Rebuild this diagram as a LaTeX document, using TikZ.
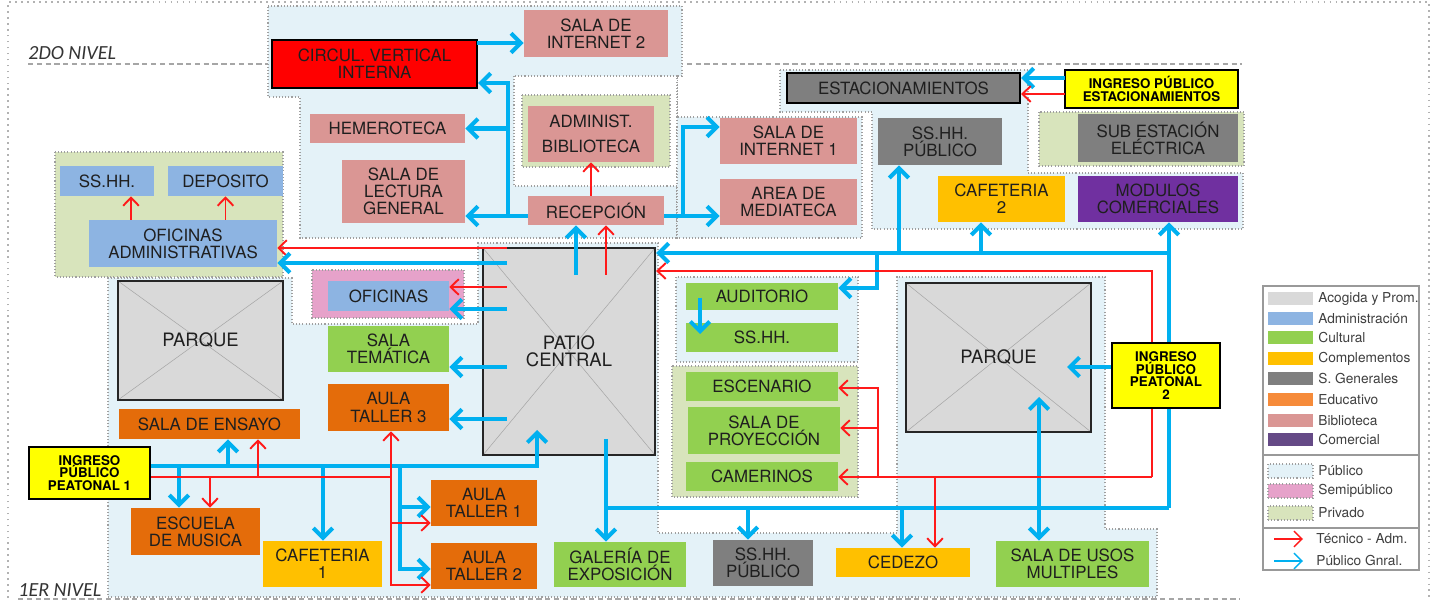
\documentclass[tikz,border=0pt]{standalone}
\usepackage{fontspec}
\setmainfont{TeX Gyre Heros}
\newfontfamily\levelfont{Carlito}
\usetikzlibrary{arrows.meta,backgrounds}
\definecolor{cBib}{HTML}{DA9694}
\definecolor{cAdm}{HTML}{8DB4E2}
\definecolor{cCul}{HTML}{92D050}
\definecolor{cCom}{HTML}{FFC000}
\definecolor{cSG}{HTML}{7F7F7F}
\definecolor{cEdu}{HTML}{E46C0A}
\definecolor{cEduL}{HTML}{F68B3A}
\definecolor{cMer}{HTML}{7030A0}
\definecolor{cMerL}{HTML}{654A86}
\definecolor{cAco}{HTML}{D9D9D9}
\definecolor{cPub}{HTML}{E4F2F8}
\definecolor{cSemi}{HTML}{E6A2CA}
\definecolor{cPriv}{HTML}{D8E4BC}
\definecolor{cBlue}{HTML}{00B0F0}
\definecolor{cRed}{HTML}{FF1A1A}
\definecolor{cIng}{HTML}{FFFF00}
\definecolor{cCirc}{HTML}{FF0000}
\pgfdeclarelayer{front}
\pgfsetlayers{background,main,front}
\tikzset{
  wh/.style 2 args={minimum width=#1*0.02cm,minimum height=#2*0.02cm},
  room/.style={inner sep=0pt,align=center,text=black!88,
               font=\fontsize{9.6}{9.7}\selectfont},
  bib/.style={room,fill=cBib},
  adm/.style={room,fill=cAdm},
  cul/.style={room,fill=cCul},
  com/.style={room,fill=cCom},
  sgen/.style={room,fill=cSG},
  edu/.style={room,fill=cEdu},
  mer/.style={room,fill=cMer},
  ingreso/.style={inner sep=0pt,align=center,fill=cIng,draw=black,line width=1.4pt,
               font=\fontsize{7.6}{7.3}\selectfont\bfseries},
  parque/.style={room,fill=cAco,draw=black!85,line width=1.3pt,
               font=\fontsize{10.5}{9.8}\selectfont,
               path picture={\draw[gray!70,line width=.3pt]
                 (path picture bounding box.north west) -- (path picture bounding box.south east)
                 (path picture bounding box.south west) -- (path picture bounding box.north east);}},
  zona/.style={draw=gray!75,line width=.6pt,dash pattern=on .6pt off 1.2pt},
  pub/.style={zona,fill=cPub},
  priv/.style={zona,fill=cPriv},
  semi/.style={zona,fill=cSemi},
  publine/.style={cBlue,line width=2.3pt},
  pubarrow/.style={publine,-{Straight Barb[length=5.5pt,width=11pt]}},
  pubboth/.style={publine,{Straight Barb[length=5.5pt,width=11pt]}-{Straight Barb[length=5.5pt,width=11pt]}},
  tecline/.style={cRed,line width=1.1pt},
  tecarrow/.style={tecline,-{Straight Barb[length=4.6pt,width=9pt]}},
  leyenda/.style={anchor=west,inner sep=0pt,text=black!75,font=\fontsize{7.8}{8}\selectfont},
}

\begin{document}
\begin{tikzpicture}[x=0.02cm,y=-0.02cm]
  \useasboundingbox (0,0) rectangle (1438,601);

  % zones and level marks
  \begin{pgfonlayer}{background}
    \draw[gray!60,line width=.8pt,dash pattern=on 1pt off 2.4pt] (8,598) -- (8,2) -- (1429,2) -- (1429,598);
    \draw[gray!70,line width=.6pt,dash pattern=on 3pt off 2pt] (28,64) -- (1242,64);
    \draw[gray!70,line width=.6pt,dash pattern=on 3pt off 2pt] (18,599) -- (1240,599);
    \draw[pub] (268,6) -- (682,6) -- (682,76) -- (677,76) -- (677,238) -- (300,238) -- (300,97) -- (268,97) -- cycle;
    \draw[zona,fill=white] (514,76) rectangle (677,186);
    \draw[priv] (522,95) rectangle (670,167);
    \draw[pub] (677,117) rectangle (862,238);
    \draw[pub] (780,70) -- (1028,70) -- (1028,173) -- (1243,173) -- (1243,229) -- (872,229) -- (872,112) -- (780,112) -- cycle;
    \draw[priv] (1039,112) rectangle (1244,166);
    \draw[priv] (55,152) rectangle (283,277);
    \draw[pub] (108,278) -- (292,278) -- (292,324) -- (478,324) -- (478,243) -- (658,243) -- (658,533)
      -- (897,533) -- (897,277) -- (1105,277) -- (1105,529) -- (1157,529) -- (1157,597) -- (108,597) -- cycle;
    \draw[semi] (312,270) rectangle (464,318);
    \draw[pub] (676,277) rectangle (858,362);
    \draw[priv] (672,366) rectangle (858,497);
  \end{pgfonlayer}

  \node[anchor=west,inner sep=0pt,text=black!80,font=\levelfont\itshape\fontsize{11.4}{12}\selectfont] (nivel2) at (28,53) {2DO NIVEL};
  \node[anchor=west,inner sep=0pt,text=black!80,font=\levelfont\itshape\fontsize{11.4}{12}\selectfont] (nivel1) at (18,590) {1ER NIVEL};

  % second level and library
  \node[room,fill=cCirc,draw=black,line width=1.4pt,wh={205}{48}] (circ) at (374.5,64) {CIRCUL. VERTICAL\\INTERNA};
  \node[bib,wh={144}{47}] (int2) at (596,33.5) {SALA DE\\INTERNET 2};
  \node[bib,wh={155}{29}] (hemero) at (387.5,128.5) {HEMEROTECA};
  \node[bib,wh={123}{63}] (lectura) at (403.5,191.5) {SALA DE\\LECTURA\\GENERAL};
  \node[bib,wh={126}{56}] (admbib) at (591,134) {ADMINIST.\\[4.5pt]BIBLIOTECA};
  \node[bib,wh={136}{29}] (recep) at (596,210.5) {RECEPCIÓN};
  \node[bib,wh={137}{46}] (int1) at (788.5,141) {SALA DE\\INTERNET 1};
  \node[bib,wh={137}{46}] (media) at (788.5,202) {AREA DE\\MEDIATECA};

  % parking and services
  \node[sgen,draw=black,line width=1.3pt,wh={233}{30}] (estac) at (903.5,88) {ESTACIONAMIENTOS};
  \node[ingreso,wh={173}{38}] (ingE) at (1151.5,89) {INGRESO PÚBLICO\\ESTACIONAMIENTOS};
  \node[sgen,wh={124}{47}] (sshhT) at (940,141.5) {SS.HH.\\PÚBLICO};
  \node[sgen,wh={160}{48}] (subest) at (1158,138) {SUB ESTACIÓN\\ELÉCTRICA};
  \node[com,wh={127}{46}] (caf2) at (1001.5,199) {CAFETERIA\\2};
  \node[mer,wh={160}{46}] (modul) at (1158,199) {MODULOS\\COMERCIALES};

  % administration
  \node[adm,wh={94}{30}] (sshhA) at (107,181) {SS.HH.};
  \node[adm,wh={115}{30}] (depo) at (225.5,181) {DEPOSITO};
  \node[adm,wh={188}{47}] (ofiA) at (183,243.5) {OFICINAS\\ADMINISTRATIVAS};

  % first level
  \node[parque,wh={165}{119}] (parque1) at (200.5,340.5) {PARQUE};
  \node[parque,wh={172}{207}] (patio) at (569,351.5) {PATIO\\CENTRAL};
  \node[parque,wh={185}{149}] (parque2) at (998.5,357.5) {PARQUE};
  \node[adm,wh={121}{30}] (ofi) at (388.5,296) {OFICINAS};
  \node[cul,wh={121}{46}] (tema) at (388.5,349) {SALA\\TEMÁTICA};
  \node[edu,wh={121}{47}] (aula3) at (388.5,407.5) {AULA\\TALLER 3};
  \node[edu,wh={181}{30}] (ensayo) at (209.5,424) {SALA DE ENSAYO};
  \node[ingreso,wh={121}{52}] (ingP1) at (89.5,473) {INGRESO\\PÚBLICO\\PEATONAL 1};
  \node[edu,wh={129}{47}] (escuela) at (195.5,531.5) {ESCUELA\\DE MUSICA};
  \node[com,wh={119}{46}] (caf1) at (322.5,564) {CAFETERIA\\1};
  \node[edu,wh={106}{46}] (aula1) at (484,503) {AULA\\TALLER 1};
  \node[edu,wh={106}{46}] (aula2) at (484,566) {AULA\\TALLER 2};
  \node[cul,wh={132}{45}] (galeria) at (620,564.5) {GALERÍA DE\\EXPOSICIÓN};
  \node[sgen,wh={100}{46}] (sshhB) at (763,563) {SS.HH.\\PÚBLICO};
  \node[com,wh={134}{29}] (cedezo) at (903,562.5) {CEDEZO};
  \node[cul,wh={153}{46}] (usos) at (1072.5,564) {SALA DE USOS\\MULTIPLES};
  \node[cul,wh={152}{27}] (audit) at (762,296.5) {AUDITORIO};
  \node[cul,wh={152}{29}] (sshhC) at (762,337.5) {SS.HH.};
  \node[cul,wh={152}{29}] (escen) at (762,386.5) {ESCENARIO};
  \node[cul,wh={152}{47}] (proy) at (764,430.5) {SALA DE\\PROYECCIÓN};
  \node[cul,wh={152}{29}] (camer) at (762,476.5) {CAMERINOS};
  \begin{pgfonlayer}{front}
    \node[ingreso,wh={108}{65}] (ingP2) at (1166,375.5) {INGRESO\\PÚBLICO\\PEATONAL\\2};
  \end{pgfonlayer}

  % library circulation
  \coordinate (libB) at (508,216);
  \coordinate (libT) at (508,83);
  \coordinate (c2) at (477,43);
  \coordinate (libR) at (683,216);
  \coordinate (libRT) at (683,127);
  \draw[pubarrow] (recep.west |- libB) -- (libB -| lectura.east);
  \draw[pubarrow] (libB) -- (libT) -- (libT -| circ.east);
  \draw[pubarrow] (libB |- hemero.east) -- (hemero.east);
  \draw[pubarrow] (c2) -- (c2 -| int2.west);
  \draw[pubarrow] (recep.east |- libR) -- (libR -| media.west);
  \draw[pubarrow] (libR) -- (libRT) -- (libRT -| int1.west);
  \draw[tecarrow] (recep.north -| admbib.south) -- (admbib.south);

  % patio to the north and west
  \coordinate (pT1) at (576,275);
  \coordinate (pT2) at (606,275);
  \draw[pubarrow] (pT1) -- (pT1 |- recep.south);
  \draw[tecarrow] (pT2) -- (pT2 |- recep.south);
  \coordinate (pw1) at (507,248);
  \coordinate (pw2) at (507,263);
  \coordinate (pw3) at (507,287);
  \coordinate (pw4) at (507,309);
  \coordinate (pw5) at (507,367);
  \coordinate (pw6) at (507,419);
  \draw[tecarrow] (pw1) -- (pw1 -| ofiA.east);
  \draw[pubarrow] (pw2) -- (pw2 -| ofiA.east);
  \draw[tecarrow] (pw3) -- (pw3 -| ofi.east);
  \draw[pubarrow] (pw4) -- (pw4 -| ofi.east);
  \draw[pubarrow] (pw5) -- (pw5 -| tema.east);
  \draw[pubarrow] (pw6) -- (pw6 -| aula3.east);
  \coordinate (a1) at (131,220);
  \draw[tecarrow] (a1) -- (a1 |- sshhA.south);
  \draw[tecarrow] (ofiA.north -| depo.south) -- (depo.south);

  % parking entrance
  \coordinate (e1) at (1065,78);
  \coordinate (e2) at (1065,94);
  \draw[pubarrow] (e1) -- (e1 -| estac.east);
  \draw[tecarrow] (e2) -- (e2 -| estac.east);

  % entrance 2, public network
  \coordinate (eB1) at (1169,253);
  \coordinate (eB2) at (1169,508);
  \coordinate (b1) at (899,253);
  \coordinate (b2) at (981,253);
  \coordinate (b3) at (877,253);
  \coordinate (b3d) at (877,288);
  \coordinate (gB) at (606,508);
  \coordinate (pB) at (606,439);
  \coordinate (b4) at (748,508);
  \coordinate (b5) at (902,508);
  \coordinate (p2t) at (1067,367);
  \coordinate (p2in) at (1039,397);
  \draw[pubarrow] (eB2) -- (eB2 |- modul.south);
  \draw[pubarrow] (eB1) -- (eB1 -| patio.east);
  \draw[pubarrow] (b1) -- (b1 |- sshhT.south);
  \draw[pubarrow] (b2) -- (b2 |- caf2.south);
  \draw[pubarrow] (b3) -- (b3d) -- (b3d -| audit.east);
  \draw[publine] (eB2) -- (gB);
  \draw[pubarrow] (pB) -- (pB |- galeria.north);
  \draw[pubarrow] (b4) -- (b4 |- sshhB.north);
  \draw[pubarrow] (b5) -- (b5 |- cedezo.north);
  \draw[pubarrow] (ingP2.west |- p2t) -- (p2t);
  \draw[pubboth] (p2in) -- (p2in |- usos.north);
  \coordinate (au1) at (700,298);
  \coordinate (au2) at (700,334);
  \draw[pubarrow] (au1) -- (au2);

  % entrance 2, technical network
  \coordinate (eR1) at (1152,271);
  \coordinate (eR2) at (1152,477);
  \coordinate (r1) at (878,477);
  \coordinate (r1t) at (878,388);
  \coordinate (r2) at (878,428);
  \coordinate (r3) at (935,477);
  \draw[tecarrow] (eR2) -- (eR1) -- (eR1 -| patio.east);
  \draw[tecarrow] (eR2) -- (eR2 -| camer.east);
  \draw[tecarrow] (r1) -- (r1t) -- (r1t -| escen.east);
  \draw[tecarrow] (r2) -- (r2 -| proy.east);
  \draw[tecarrow] (r3) -- (r3 |- cedezo.north);

  % entrance 1
  \coordinate (wB) at (537,466);
  \coordinate (wBt) at (537,430);
  \coordinate (l1) at (228,466);
  \coordinate (l2) at (179,466);
  \coordinate (l3) at (323,466);
  \coordinate (l4) at (400,466);
  \coordinate (l4a) at (400,507);
  \coordinate (l4b) at (400,569);
  \draw[pubarrow] (ingP1.east |- wB) -- (wB) -- (wBt);
  \draw[pubarrow] (l1) -- (l1 |- ensayo.south);
  \draw[pubarrow] (l2) -- (l2 |- escuela.north);
  \draw[pubarrow] (l3) -- (l3 |- caf1.north);
  \draw[pubarrow] (l4) -- (l4b) -- (l4b -| aula2.west);
  \draw[pubarrow] (l4a) -- (l4a -| aula1.west);
  \coordinate (wR) at (391,477);
  \coordinate (m1) at (258,477);
  \coordinate (m2) at (210,477);
  \coordinate (m3a) at (391,523);
  \coordinate (m3b) at (391,585);
  \draw[tecline] (ingP1.east |- wR) -- (wR);
  \draw[tecarrow] (m1) -- (m1 |- ensayo.south);
  \draw[tecarrow] (m2) -- (m2 |- escuela.north);
  \draw[tecarrow] (wR) -- (wR |- aula3.south);
  \draw[tecarrow] (wR) -- (m3b) -- (m3b -| aula2.west);
  \draw[tecarrow] (m3a) -- (m3a -| aula1.west);

  % legend
  \node[draw=gray!80,fill=white,line width=.6pt,wh={156}{284}] (ley) at (1341,428) {};
  \coordinate (s1) at (1263,455);
  \coordinate (s2) at (1263,528);
  \draw[gray!80,line width=.6pt] (s1) -- (s1 -| ley.east);
  \draw[gray!80,line width=.6pt] (s2) -- (s2 -| ley.east);
  \foreach \y/\c/\t in {299/cAco/Acogida y Prom.,319/cAdm/Administración,338/cCul/Cultural,
      359/cCom/Complementos,379/cSG/S. Generales,400/cEduL/Educativo,421/cBib/Biblioteca,440/cMerL/Comercial}{
    \node[fill=\c,inner sep=0pt,wh={45}{13}] (sw\y) at (1290.5,\y) {};
    \node[leyenda] (lg\y) at (1318,\y) {\t};
  }
  \foreach \y/\s/\t in {471/pub/Público,491/semi/Semipúblico,513/priv/Privado}{
    \node[\s,inner sep=0pt,wh={45}{14}] (sw\y) at (1290.5,\y) {};
    \node[leyenda] (lg\y) at (1318,\y) {\t};
  }
  \coordinate (la1) at (1274,539);
  \coordinate (la2) at (1274,561);
  \draw[tecarrow,line width=.8pt] (la1) -- ++(29,0);
  \draw[cBlue,line width=.8pt,-{Straight Barb[length=4.6pt,width=9pt]}] (la2) -- ++(29,0);
  \node[leyenda] (lg539) at (1316,539) {Técnico - Adm.};
  \node[leyenda] (lg561) at (1316,561) {Público Gnral.};
\end{tikzpicture}
\end{document}
